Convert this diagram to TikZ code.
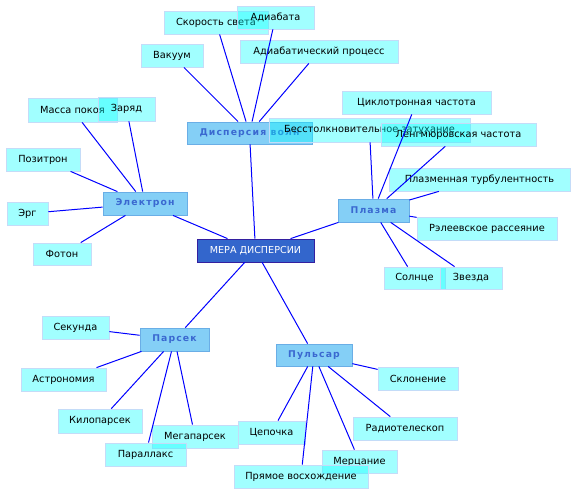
\documentclass[tikz,border=0pt]{standalone}
\usepackage{fontspec}
\setmainfont{DejaVu Sans}
\newfontfamily\topicfont[LetterSpace=12]{DejaVu Sans}
\usepackage{tikz}
\definecolor{leaffill}{RGB}{0,255,255}
\definecolor{leafline}{RGB}{196,220,248}
\definecolor{topicfill}{RGB}{132,207,246}
\definecolor{topicline}{RGB}{106,174,230}
\definecolor{topictext}{RGB}{58,104,208}
\definecolor{rootfill}{RGB}{51,102,204}
\definecolor{rootline}{RGB}{51,31,160}
\definecolor{linkblue}{RGB}{0,0,255}
\tikzset{
  % --- leaf terms (semi-transparent, overlaps darken) ---
  leaf/.style={
    draw=leafline, fill=leaffill, fill opacity=0.37, text opacity=1,
    line width=0.8pt, inner sep=0pt, minimum height=23,
    font=\fontsize{9.8}{11}\selectfont,
  },
  % --- second level topics ---
  topic/.style={
    draw=topicline, fill=topicfill, line width=0.8pt, inner sep=0pt,
    minimum height=23, text=topictext,
    font=\topicfont\bfseries\fontsize{9.3}{11}\selectfont,
  },
  % --- centre of the map ---
  root/.style={
    draw=rootline, fill=rootfill, line width=0.8pt, inner sep=0pt,
    minimum height=23, text=white, font=\fontsize{9.6}{11}\selectfont,
  },
  link/.style={draw=linkblue, line width=1pt},
}

\begin{document}
\begin{tikzpicture}[x=1pt, y=-1pt]
    \useasboundingbox (0,0) rectangle (576,495);

    % ---- Centre ----
    \node[root, minimum width=117] (mera) at (255.5,250.5) {МЕРА ДИСПЕРСИИ};

    % ---- Topics ----
    \node[topic, minimum width=125, minimum height=22] (disp) at (249.5,133) {Дисперсия волн};
    \node[topic, minimum width=71] (plazma) at (373.5,210.5) {Плазма};
    \node[topic, minimum width=84] (elektron) at (145,203.5) {Электрон};
    \node[topic, minimum width=69] (parsek) at (174.5,339.5) {Парсек};
    \node[topic, minimum width=76, minimum height=22] (pulsar) at (314,355) {Пульсар};

    % ---- Dispersion of waves ----
    \node[leaf, minimum width=62] (vakuum) at (172,55.5) {Вакуум};
    \node[leaf, minimum width=104] (sveta) at (216,22.5) {Скорость света};
    \node[leaf, minimum width=77] (adiabata) at (275.5,17.5) {Адиабата};
    \node[leaf, minimum width=158] (adproc) at (319,51.5) {Адиабатический процесс};

    % ---- Plasma ----
    \node[leaf, minimum width=201, minimum height=24] (bess) at (369.5,130) {Бесстолкновительное затухание};
    \node[leaf, minimum width=149] (ciklo) at (416.5,102.5) {Циклотронная частота};
    \node[leaf, minimum width=155] (lengm) at (458.5,134.5) {Ленгмюровская частота};
    \node[leaf, minimum width=181] (turb) at (479.5,179.5) {Плазменная турбулентность};
    \node[leaf, minimum width=140] (rel) at (487,228.5) {Рэлеевское рассеяние};
    \node[leaf, minimum width=61, minimum height=22] (solnce) at (414.5,278) {Солнце};
    \node[leaf, minimum width=62, minimum height=22] (zvezda) at (471,278) {Звезда};

    % ---- Electron ----
    \node[leaf, minimum width=89, minimum height=24] (massa) at (72.5,110) {Масса покоя};
    \node[leaf, minimum width=57, minimum height=24] (zaryad) at (126.5,109) {Заряд};
    \node[leaf, minimum width=74] (pozitron) at (43,159.5) {Позитрон};
    \node[leaf, minimum width=41] (erg) at (27.5,213.5) {Эрг};
    \node[leaf, minimum width=58, minimum height=22] (foton) at (62,254) {Фотон};

    % ---- Parsec ----
    \node[leaf, minimum width=67] (sekunda) at (75.5,327.5) {Секунда};
    \node[leaf, minimum width=85] (astro) at (63.5,379.5) {Астрономия};
    \node[leaf, minimum width=84, minimum height=24] (kilo) at (100,421) {Килопарсек};
    \node[leaf, minimum width=86] (mega) at (195,436.5) {Мегапарсек};
    \node[leaf, minimum width=81] (parallaks) at (145.5,454.5) {Параллакс};

    % ---- Pulsar ----
    \node[leaf, minimum width=80] (sklon) at (418,378.5) {Склонение};
    \node[leaf, minimum width=104] (radio) at (405,428.5) {Радиотелескоп};
    \node[leaf, minimum width=67] (cepochka) at (271.5,432.5) {Цепочка};
    \node[leaf, minimum width=75] (mercanie) at (359.5,461.5) {Мерцание};
    \node[leaf, minimum width=134] (pryamoe) at (301,476.5) {Прямое восхождение};

    % ---- Links ----
    \foreach \t in {disp,plazma,elektron,parsek,pulsar}{ \draw[link] (mera) -- (\t); }
    \foreach \c in {vakuum,sveta,adiabata,adproc}{ \draw[link] (disp) -- (\c); }
    \foreach \c in {bess,ciklo,lengm,turb,rel,solnce,zvezda}{ \draw[link] (plazma) -- (\c); }
    \foreach \c in {massa,zaryad,pozitron,erg,foton}{ \draw[link] (elektron) -- (\c); }
    \foreach \c in {sekunda,astro,kilo,mega,parallaks}{ \draw[link] (parsek) -- (\c); }
    \foreach \c in {sklon,radio,cepochka,mercanie,pryamoe}{ \draw[link] (pulsar) -- (\c); }
\end{tikzpicture}
\end{document}
